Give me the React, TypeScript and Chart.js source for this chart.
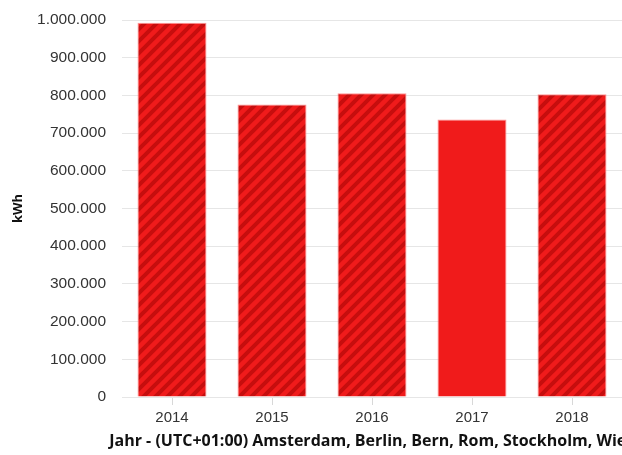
import React, { useEffect, useRef } from "react";
import { Chart, registerables } from "chart.js";

Chart.register(...registerables);

const categories = ["2014", "2015", "2016", "2017", "2018"];
const energyKWh = [993000, 776000, 806000, 736000, 803000];
const yTicks = [0, 100000, 200000, 300000, 400000, 500000, 600000, 700000, 800000, 900000, 1000000];
const yAxisTitle = "kWh";
const xAxisTitle = "Jahr - (UTC+01:00) Amsterdam, Berlin, Bern, Rom, Stockholm, Wien";
const solidYears = ["2017"];

const BASE_RED = "#f01b1b";
const DARK_RED = "#c60e0e";

function formatDE(v: number): string {
  const s = Math.round(v).toString();
  return s.replace(/\B(?=(\d{3})+(?!\d))/g, ".");
}

function makeStripePattern(ctx: CanvasRenderingContext2D): CanvasPattern | string {
  const s = 12;
  const c = document.createElement("canvas");
  c.width = s;
  c.height = s;
  const p = c.getContext("2d");
  if (!p) return BASE_RED;
  p.fillStyle = BASE_RED;
  p.fillRect(0, 0, s, s);
  p.strokeStyle = DARK_RED;
  p.lineWidth = 4;
  p.lineCap = "square";
  p.beginPath();
  p.moveTo(-1, s + 1);
  p.lineTo(s + 1, -1);
  p.moveTo(-s / 2 - 1, s / 2 + 1);
  p.lineTo(s / 2 + 1, -s / 2 - 1);
  p.moveTo(s / 2 - 1, s * 1.5 + 1);
  p.lineTo(s * 1.5 + 1, s / 2 - 1);
  p.stroke();
  return ctx.createPattern(c, "repeat") || BASE_RED;
}

const xTitlePlugin = {
  id: "xTitleNoSquish",
  afterDraw(chart: any) {
    const { ctx, chartArea } = chart;
    ctx.save();
    ctx.font = 'bold 16px "Open Sans", "Noto Sans", sans-serif';
    ctx.fillStyle = "#111111";
    ctx.textAlign = "center";
    ctx.textBaseline = "middle";
    ctx.fillText(xAxisTitle, (chartArea.left + chartArea.right) / 2 + 1, 441);
    ctx.restore();
  },
};

export default function App() {
  const ref = useRef<HTMLCanvasElement | null>(null);

  useEffect(() => {
    const canvas = ref.current;
    if (!canvas) return;
    const ctx = canvas.getContext("2d");
    if (!ctx) return;
    const pattern = makeStripePattern(ctx);
    const bg = categories.map((c) => (solidYears.includes(c) ? BASE_RED : pattern));

    const chart = new Chart(ctx, {
      type: "bar",
      data: {
        labels: categories,
        datasets: [
          {
            label: yAxisTitle,
            data: energyKWh,
            backgroundColor: bg as any,
            borderColor: "rgba(255,140,140,0.9)",
            borderWidth: 1,
            barPercentage: 0.69,
            categoryPercentage: 1,
          },
        ],
      },
      options: {
        responsive: false,
        animation: false,
        layout: { padding: { top: 20, right: 0, bottom: 0, left: 0 } },
        plugins: {
          legend: { display: false },
          tooltip: { enabled: false },
          title: { display: false },
        },
        scales: {
          x: {
            grid: {
              display: true,
              drawOnChartArea: false,
              drawTicks: true,
              offset: false,
              tickLength: 8,
              color: "#d8d8d8",
            },
            border: { display: false },
            ticks: {
              color: "#333333",
              padding: 4,
              font: { family: '"Liberation Sans", Arial, sans-serif', size: 15 },
            },
            afterFit: (scale: any) => {
              scale.height = 58;
            },
          },
          y: {
            min: 0,
            max: 1000000,
            afterBuildTicks: (scale: any) => {
              scale.ticks = yTicks.map((v) => ({ value: v }));
            },
            grid: {
              color: "#e6e6e6",
              lineWidth: 1,
              drawTicks: true,
              tickLength: 16,
              tickColor: "rgba(0,0,0,0)",
            },
            border: { display: false },
            ticks: {
              color: "#333333",
              padding: 0,
              font: { family: '"Liberation Sans", Arial, sans-serif', size: 15.5 },
              callback: (v: any) => formatDE(Number(v)),
            },
            title: {
              display: true,
              text: yAxisTitle,
              color: "#111111",
              padding: { top: 10, bottom: 0 },
              font: { family: '"Open Sans", "Noto Sans", sans-serif', size: 13, weight: "bold" },
            },
            afterFit: (scale: any) => {
              scale.width = 122;
            },
          },
        },
      },
      plugins: [xTitlePlugin],
    });

    return () => {
      chart.destroy();
    };
  }, []);

  return (
    <div
      style={{
        position: "fixed",
        left: 0,
        top: 0,
        width: 622,
        height: 455,
        overflow: "hidden",
        background: "#ffffff",
      }}
    >
      <canvas ref={ref} width={622} height={455} style={{ display: "block" }} />
    </div>
  );
}
